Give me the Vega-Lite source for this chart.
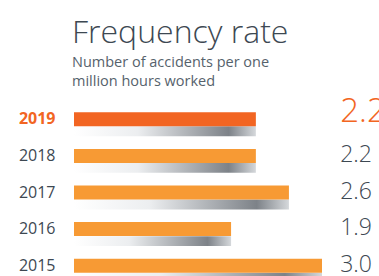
{
  "$schema": "https://vega.github.io/schema/vega-lite/v6.json",
  "width": 248,
  "height": 183,
  "autosize": {"type": "none"},
  "padding": {"left": 74, "top": 101, "right": 57, "bottom": 0},
  "background": "white",
  "view": {"stroke": null},
  "title": {
    "text": "Frequency rate",
    "subtitle": ["Number of accidents per one", "million hours worked"],
    "anchor": "start",
    "frame": "group",
    "font": "Open Sans",
    "fontWeight": 300,
    "fontSize": 32,
    "color": "#3d4852",
    "subtitleFont": "Open Sans",
    "subtitleFontSize": 14.5,
    "subtitleColor": "#56626c",
    "subtitleLineHeight": 19,
    "subtitlePadding": 6,
    "offset": 7,
    "dx": -2
  },
  "data": {
    "values": [
      {"year": "2019", "rate": 2.2, "label": "2.2"},
      {"year": "2018", "rate": 2.2, "label": "2.2"},
      {"year": "2017", "rate": 2.6, "label": "2.6"},
      {"year": "2016", "rate": 1.9, "label": "1.9"},
      {"year": "2015", "rate": 3.0, "label": "3.0"}
    ]
  },
  "encoding": {
    "y": {
      "field": "year",
      "type": "nominal",
      "sort": "descending",
      "scale": {"paddingInner": 0, "paddingOuter": 0},
      "axis": {
        "title": null,
        "domain": false,
        "ticks": false,
        "labelPadding": 19,
        "labelFont": "Open Sans",
        "labelFontSize": 16,
        "labelFontWeight": {"condition": {"test": "datum.value == '2019'", "value": "bold"}, "value": "normal"},
        "labelColor": {"condition": {"test": "datum.value == '2019'", "value": "#f26522"}, "value": "#3d4852"}
      }
    }
  },
  "layer": [
    {
      "mark": {
        "type": "bar",
        "height": {"band": 0.27},
        "yOffset": 12,
        "x2Offset": -3,
        "color": {
          "gradient": "linear",
          "x1": 0, "y1": 0, "x2": 1, "y2": 0,
          "stops": [
            {"offset": 0, "color": "#ffffff"},
            {"offset": 0.35, "color": "#eceef0"},
            {"offset": 0.85, "color": "#7d8288"},
            {"offset": 1, "color": "#d5d8db"}
          ]
        }
      },
      "encoding": {
        "x": {"field": "rate", "type": "quantitative", "scale": {"domain": [0, 3], "nice": false, "zero": true}, "axis": null}
      }
    },
    {
      "mark": {"type": "bar", "height": {"band": 0.3825}},
      "encoding": {
        "x": {"field": "rate", "type": "quantitative"},
        "color": {
          "condition": {"test": "datum.year == '2019'", "value": "#f26522"},
          "value": "#f79a34"
        }
      }
    },
    {
      "transform": [{"filter": "datum.year != '2019'"}],
      "mark": {"type": "text", "align": "left", "baseline": "alphabetic", "dy": 6, "font": "Open Sans", "fontSize": 23, "fontWeight": 300, "color": "#3d4852"},
      "encoding": {
        "x": {"datum": 3.22},
        "text": {"field": "label"}
      }
    },
    {
      "transform": [{"filter": "datum.year == '2019'"}],
      "mark": {"type": "text", "align": "left", "baseline": "alphabetic", "dy": 3, "font": "Open Sans", "fontSize": 33, "fontWeight": 300, "color": "#f26522"},
      "encoding": {
        "x": {"datum": 3.22},
        "text": {"field": "label"}
      }
    }
  ]
}
